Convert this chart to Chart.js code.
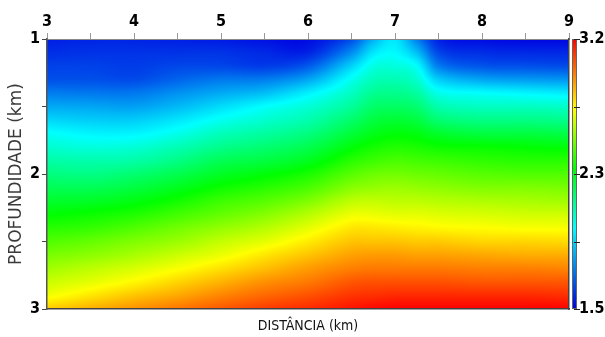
<!DOCTYPE html>
<html>
<head>
<meta charset="utf-8">
<script src="https://cdn.jsdelivr.net/npm/chart.js@4"></script>
<style>
html, body { margin: 0; padding: 0; background: #fff; }
</style>
</head>
<body>
<canvas id="myChart" width="605" height="337"></canvas>
<script>
// distancia (km) das colunas do modelo
var distancias = [3, 3.5, 4, 4.5, 5, 5.5, 6, 6.5, 6.75, 7, 7.25, 7.5, 8, 8.5, 9];
// profundidade (km) das linhas do modelo
var profundidades = [1.0, 1.1, 1.2, 1.3, 1.4, 1.5, 1.6, 1.7, 1.8, 1.9, 2.0,
                     2.1, 2.2, 2.3, 2.4, 2.5, 2.6, 2.7, 2.8, 2.9, 3.0];
// velocidade, uma linha por profundidade
var velocidades = [
    [1.56, 1.57, 1.57, 1.56, 1.55, 1.53, 1.52, 1.65, 1.85, 1.96, 1.75, 1.56, 1.52, 1.51, 1.51],
    [1.59, 1.60, 1.60, 1.60, 1.60, 1.58, 1.57, 1.78, 1.96, 2.00, 1.88, 1.64, 1.59, 1.58, 1.58],
    [1.63, 1.63, 1.62, 1.64, 1.64, 1.62, 1.68, 1.92, 2.05, 2.06, 2.01, 1.75, 1.67, 1.66, 1.65],
    [1.66, 1.66, 1.65, 1.70, 1.74, 1.75, 1.83, 2.03, 2.11, 2.12, 2.08, 1.91, 1.83, 1.81, 1.80],
    [1.75, 1.74, 1.74, 1.79, 1.84, 1.88, 1.98, 2.10, 2.17, 2.18, 2.15, 2.04, 2.01, 1.99, 1.97],
    [1.84, 1.83, 1.82, 1.87, 1.94, 2.01, 2.07, 2.16, 2.23, 2.24, 2.22, 2.13, 2.10, 2.10, 2.09],
    [1.93, 1.91, 1.91, 1.96, 2.03, 2.08, 2.13, 2.23, 2.29, 2.31, 2.29, 2.22, 2.19, 2.19, 2.18],
    [2.02, 1.99, 1.99, 2.04, 2.11, 2.15, 2.20, 2.30, 2.35, 2.37, 2.36, 2.32, 2.29, 2.29, 2.28],
    [2.08, 2.06, 2.07, 2.12, 2.18, 2.22, 2.27, 2.37, 2.41, 2.43, 2.42, 2.40, 2.39, 2.38, 2.37],
    [2.14, 2.13, 2.14, 2.19, 2.26, 2.29, 2.34, 2.44, 2.47, 2.49, 2.48, 2.47, 2.45, 2.44, 2.44],
    [2.20, 2.19, 2.22, 2.27, 2.33, 2.37, 2.42, 2.51, 2.54, 2.55, 2.54, 2.53, 2.51, 2.50, 2.50],
    [2.26, 2.26, 2.29, 2.34, 2.40, 2.44, 2.49, 2.58, 2.60, 2.61, 2.60, 2.59, 2.57, 2.57, 2.56],
    [2.32, 2.33, 2.36, 2.41, 2.47, 2.51, 2.57, 2.66, 2.67, 2.66, 2.66, 2.65, 2.64, 2.63, 2.62],
    [2.38, 2.40, 2.43, 2.48, 2.53, 2.58, 2.65, 2.73, 2.73, 2.72, 2.72, 2.71, 2.70, 2.69, 2.69],
    [2.44, 2.46, 2.50, 2.55, 2.60, 2.65, 2.72, 2.80, 2.80, 2.79, 2.78, 2.77, 2.76, 2.75, 2.75],
    [2.50, 2.53, 2.57, 2.61, 2.67, 2.72, 2.79, 2.86, 2.86, 2.86, 2.85, 2.85, 2.83, 2.83, 2.82],
    [2.56, 2.59, 2.63, 2.68, 2.73, 2.80, 2.86, 2.92, 2.93, 2.93, 2.92, 2.92, 2.91, 2.90, 2.90],
    [2.62, 2.66, 2.70, 2.75, 2.81, 2.87, 2.93, 2.98, 2.99, 2.99, 2.99, 2.99, 2.98, 2.98, 2.97],
    [2.68, 2.72, 2.77, 2.83, 2.89, 2.95, 2.99, 3.05, 3.06, 3.06, 3.06, 3.06, 3.05, 3.05, 3.05],
    [2.74, 2.80, 2.86, 2.91, 2.97, 3.02, 3.06, 3.11, 3.12, 3.13, 3.13, 3.13, 3.13, 3.13, 3.12],
    [2.85, 2.90, 2.95, 3.00, 3.05, 3.10, 3.13, 3.17, 3.19, 3.20, 3.20, 3.20, 3.20, 3.20, 3.20]
];
// barra de cores
var escalaTicks = [1.5, 1.925, 2.35, 2.775, 3.2];
var escalaRotulos = ['1.5', '', '2.3', '', '3.2'];
var vMin = 1.5, vMax = 3.2;

// paleta tipo "jet"
var paleta = [
    [0.00, 0, 0, 225],
    [0.30, 0, 255, 255],
    [0.52, 0, 255, 0],
    [0.74, 255, 255, 0],
    [1.00, 255, 0, 0]
];

function cor(v) {
    var t = (v - vMin) / (vMax - vMin);
    if (t < 0) t = 0;
    if (t > 1) t = 1;
    for (var k = 1; k < paleta.length; k++) {
        if (t <= paleta[k][0]) {
            var a = paleta[k - 1], b = paleta[k];
            var f = (t - a[0]) / (b[0] - a[0]);
            return [a[1] + (b[1] - a[1]) * f, a[2] + (b[2] - a[2]) * f, a[3] + (b[3] - a[3]) * f];
        }
    }
    return [255, 0, 0];
}

function achaIndice(arr, v) {
    var i = 0;
    while (i < arr.length - 2 && v > arr[i + 1]) i++;
    var f = (v - arr[i]) / (arr[i + 1] - arr[i]);
    if (f < 0) f = 0;
    if (f > 1) f = 1;
    return [i, f];
}

function lim(k, n) { return k < 0 ? 0 : (k > n - 1 ? n - 1 : k); }

// derivada no no k (diferenca centrada, espacamento irregular)
function deriv(xs, vs, k) {
    var a = lim(k - 1, xs.length), b = lim(k + 1, xs.length);
    return (vs[b] - vs[a]) / (xs[b] - xs[a]);
}

// interpolacao hermite cubica entre os nos i e i+1
function herm(xs, vs, i, f) {
    var h = xs[i + 1] - xs[i];
    var m0 = deriv(xs, vs, i) * h, m1 = deriv(xs, vs, i + 1) * h;
    var f2 = f * f, f3 = f2 * f;
    return (2 * f3 - 3 * f2 + 1) * vs[i] + (f3 - 2 * f2 + f) * m0 +
           (-2 * f3 + 3 * f2) * vs[i + 1] + (f3 - f2) * m1;
}

function valor(x, z) {
    var a = achaIndice(distancias, x), b = achaIndice(profundidades, z);
    var col = [];
    for (var j = 0; j < profundidades.length; j++) {
        col.push(herm(distancias, velocidades[j], a[0], a[1]));
    }
    return herm(profundidades, col, b[0], b[1]);
}

var mapaPlugin = {
    id: 'mapa',
    beforeDraw: function(chart) {
        var ctx = chart.ctx, area = chart.chartArea;
        var sx = chart.scales.x, sy = chart.scales.y, cb = chart.scales.cb;
        var w = Math.round(area.right - area.left), h = Math.round(area.bottom - area.top);
        var off = document.createElement('canvas');
        off.width = w; off.height = h;
        var octx = off.getContext('2d');
        var img = octx.createImageData(w, h);
        for (var py = 0; py < h; py++) {
            var z = sy.getValueForPixel(area.top + py + 0.5);
            for (var px = 0; px < w; px++) {
                var x = sx.getValueForPixel(area.left + px + 0.5);
                var c = cor(valor(x, z));
                var p = (py * w + px) * 4;
                img.data[p] = c[0]; img.data[p + 1] = c[1]; img.data[p + 2] = c[2]; img.data[p + 3] = 255;
            }
        }
        octx.putImageData(img, 0, 0);
        ctx.save();
        ctx.drawImage(off, area.left, area.top);

        // barra de cores
        var bx = area.right + 3, bw = 5;
        var y0 = cb.getPixelForValue(vMax), y1 = cb.getPixelForValue(vMin);
        for (var y = Math.floor(y0); y < Math.ceil(y1); y++) {
            var c2 = cor(cb.getValueForPixel(y + 0.5));
            ctx.fillStyle = 'rgb(' + Math.round(c2[0]) + ',' + Math.round(c2[1]) + ',' + Math.round(c2[2]) + ')';
            ctx.fillRect(bx, y, bw, 1);
        }
        ctx.strokeStyle = '#666';
        ctx.lineWidth = 1;
        ctx.strokeRect(bx + 0.5, y0 + 0.5, bw - 1, y1 - y0 - 1);
        ctx.strokeStyle = '#222';
        for (var k = 0; k < escalaTicks.length; k++) {
            var ty = Math.round(cb.getPixelForValue(escalaTicks[k])) + 0.5;
            ctx.beginPath();
            ctx.moveTo(bx + 2, ty);
            ctx.lineTo(bx + 8, ty);
            ctx.stroke();
        }
        ctx.restore();
    }
};

var condensada = "'DejaVu Sans Condensed', 'DejaVu Sans', sans-serif";
var fonteTick = { family: condensada, size: 16, weight: 'bold' };

var ctx = document.getElementById('myChart').getContext('2d');
var chart = new Chart(ctx, {
    type: 'scatter',
    data: { datasets: [] },
    options: {
        responsive: false,
        animation: false,
        layout: { padding: 0 },
        plugins: { legend: { display: false }, tooltip: { enabled: false } },
        scales: {
            x: {
                type: 'linear', position: 'top', min: 3, max: 9,
                afterFit: function(s) { s.height = 39; },
                ticks: {
                    stepSize: 0.5, color: '#000', font: fonteTick, padding: 2, maxRotation: 0,
                    callback: function(v) { return Number.isInteger(v) ? String(v) : ''; }
                },
                grid: { drawOnChartArea: false, tickLength: 6, color: '#999' },
                border: { color: '#888', width: 1 }
            },
            xb: {
                type: 'linear', position: 'bottom', min: 3, max: 9,
                afterFit: function(s) { s.height = 28; },
                ticks: { display: false },
                grid: { display: false },
                border: { color: '#444', width: 1.5 },
                title: {
                    display: true, text: 'DISTÂNCIA (km)', color: '#111',
                    font: { family: condensada, size: 14 },
                    padding: { top: 0, bottom: 2 }
                }
            },
            y: {
                type: 'linear', position: 'left', min: 1, max: 3, reverse: true,
                afterFit: function(s) { s.width = 47; },
                ticks: {
                    stepSize: 0.5, color: '#000', font: fonteTick, padding: 2,
                    callback: function(v) { return Number.isInteger(v) ? String(v) : ''; }
                },
                grid: { drawOnChartArea: false, tickLength: 5, color: '#444' },
                border: { color: '#555', width: 1.5 },
                title: {
                    display: true, text: 'PROFUNDIDADE (km)', color: '#3a3a3a',
                    font: { family: 'DejaVu Sans', size: 17 },
                    padding: { top: 6, bottom: 0 }
                }
            },
            cb: {
                type: 'linear', position: 'right', min: vMin, max: vMax,
                afterFit: function(s) { s.width = 36; },
                afterBuildTicks: function(s) {
                    s.ticks = escalaTicks.map(function(v) { return { value: v }; });
                },
                ticks: {
                    color: '#000', font: fonteTick, padding: 2,
                    callback: function(v, i) { return escalaRotulos[i]; }
                },
                grid: { display: false },
                border: { color: '#444', width: 1.5 }
            }
        }
    },
    plugins: [mapaPlugin]
});
</script>
</body>
</html>
